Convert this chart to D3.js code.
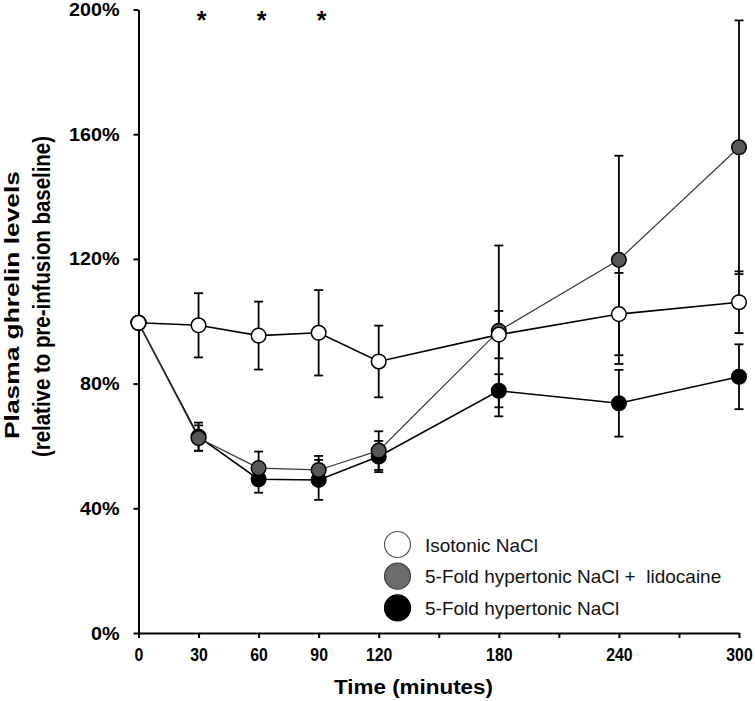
<!DOCTYPE html>
<html>
<head>
<meta charset="utf-8">
<script src="https://cdn.jsdelivr.net/npm/d3@7"></script>
<style>
  html, body { margin: 0; padding: 0; background: #fff; }
  svg text { font-family: "Liberation Sans", Arial, Helvetica, sans-serif; white-space: pre; }
</style>
</head>
<body>
<svg id="chart" width="755" height="701"></svg>
<script>
// ---- data ----
const times = [0, 30, 60, 90, 120, 180, 240, 300];
const isotonic = [99.5, 98.7, 95.4, 96.3, 87.1, 95.7, 102.3, 106.1];
const isotonicSE = [0, 10.3, 10.9, 13.7, 11.5, 7.6, 13.2, 9.9];
const lidocaine = [99.5, 62.5, 52.9, 52.3, 58.5, 96.9, 119.7, 155.8];
const lidocaineSE = [0, 4.1, 5.3, 4.5, 6.2, 27.4, 33.4, 40.7];
const hypertonic = [99.5, 63.0, 49.3, 49.1, 56.6, 77.7, 73.7, 82.2];
const hypertonicSE = [0, 4.5, 4.3, 6.4, 5.0, 5.3, 10.7, 10.4];
const seriesNames = ["Isotonic NaCl", "5-Fold hypertonic NaCl +  lidocaine", "5-Fold hypertonic NaCl"];
const xTicks = [0, 30, 60, 90, 120, 150, 180, 210, 240, 270, 300];
const xLabeled = [0, 30, 60, 90, 120, 180, 240, 300];
const yTicks = [0, 40, 80, 120, 160, 200];
const starTimes = [30, 60, 90];
const xTitle = "Time (minutes)";
const yTitle1 = "Plasma ghrelin levels";
const yTitle2 = "(relative to pre-infusion baseline)";

// ---- chart ----
const svg = d3.select("#chart");
const x = d3.scaleLinear().domain([0, 300]).range([138.5, 739]);
const y = d3.scaleLinear().domain([0, 200]).range([633, 9.5]);

function fit(sel, target) {
  sel.each(function () {
    const w = this.getComputedTextLength();
    if (w > 0) {
      d3.select(this).attr("textLength", target(w, this)).attr("lengthAdjust", "spacingAndGlyphs");
    }
  });
}

// Y axis
const yAxis = svg.append("g").attr("transform", `translate(${x(0)},0)`)
  .call(d3.axisLeft(y).tickValues(yTicks).tickFormat(d => d + "%").tickSize(5).tickSizeOuter(0).tickPadding(14));
yAxis.select(".domain").attr("stroke", "#000").attr("stroke-width", 2);
yAxis.selectAll(".tick line").attr("stroke", "#000").attr("stroke-width", 2);
yAxis.selectAll(".tick text").attr("font-size", 19).attr("font-weight", "bold").attr("fill", "#000")
  .attr("font-family", '"Liberation Sans", Arial, sans-serif');
fit(yAxis.selectAll(".tick text"), w => w * 1.04);

// X axis
const xAxis = svg.append("g").attr("transform", `translate(0,${y(0)})`)
  .call(d3.axisBottom(x).tickValues(xTicks).tickFormat(d => xLabeled.includes(d) ? String(d) : "")
    .tickSize(5).tickSizeOuter(0).tickPadding(10));
xAxis.select(".domain").attr("stroke", "#000").attr("stroke-width", 2);
xAxis.selectAll(".tick line").attr("stroke", "#000").attr("stroke-width", 2);
xAxis.selectAll(".tick text").attr("font-size", 18).attr("font-weight", "bold").attr("fill", "#000")
  .attr("font-family", '"Liberation Sans", Arial, sans-serif');
fit(xAxis.selectAll(".tick text").filter(function () { return this.textContent !== ""; }), w => w * 0.88);

// Axis titles
const xt = svg.append("text").attr("x", 413.5).attr("y", 694).attr("text-anchor", "middle")
  .attr("font-size", 20).attr("font-weight", "bold").text(xTitle);
fit(xt, () => 159);

const yt1 = svg.append("text").attr("transform", "translate(19,305) rotate(-90)").attr("text-anchor", "middle")
  .attr("font-size", 21).attr("font-weight", "bold").text(yTitle1);
fit(yt1, () => 268);
const yt2 = svg.append("text").attr("transform", "translate(50,296.5) rotate(-90)").attr("text-anchor", "middle")
  .attr("font-size", 23).attr("font-weight", "bold").text(yTitle2);
fit(yt2, () => 321);

// Asterisks
svg.append("g").selectAll("text").data(starTimes).join("text")
  .attr("x", d => x(d) + 3).attr("y", 29).attr("text-anchor", "middle")
  .attr("font-size", 25).attr("font-weight", "bold").text("*");

// Series
const series = [
  { name: seriesNames[2], vals: hypertonic, se: hypertonicSE, fill: "#000", line: "#000", lw: 1.6 },
  { name: seriesNames[1], vals: lidocaine, se: lidocaineSE, fill: "#575757", line: "#3a3a3a", lw: 1.2 },
  { name: seriesNames[0], vals: isotonic, se: isotonicSE, fill: "#fff", line: "#000", lw: 1.6 }
];

const capW = 4.5;
const eb = svg.append("g");
series.forEach(s => {
  const pts = times.map((t, i) => ({ t, v: s.vals[i], e: s.se[i] })).filter(p => p.e > 0);
  const g = eb.append("g");
  g.selectAll("line.v").data(pts).join("line").attr("class", "v")
    .attr("x1", d => x(d.t)).attr("x2", d => x(d.t))
    .attr("y1", d => y(d.v + d.e)).attr("y2", d => y(d.v - d.e))
    .attr("stroke", "#000").attr("stroke-width", 1.8);
  [1, -1].forEach(sign => {
    g.selectAll("line.c" + (sign > 0 ? "u" : "d")).data(pts).join("line").attr("class", "c" + (sign > 0 ? "u" : "d"))
      .attr("x1", d => x(d.t) - capW).attr("x2", d => x(d.t) + capW)
      .attr("y1", d => y(d.v + sign * d.e)).attr("y2", d => y(d.v + sign * d.e))
      .attr("stroke", "#000").attr("stroke-width", 1.8);
  });
});

const line = d3.line().x(d => x(d.t)).y(d => y(d.v));
series.forEach(s => {
  const pts = times.map((t, i) => ({ t, v: s.vals[i] }));
  svg.append("path").datum(pts).attr("d", line).attr("fill", "none")
    .attr("stroke", s.line).attr("stroke-width", s.lw);
});
series.forEach(s => {
  const pts = times.map((t, i) => ({ t, v: s.vals[i] }));
  svg.append("g").selectAll("circle").data(pts).join("circle")
    .attr("cx", d => x(d.t)).attr("cy", d => y(d.v)).attr("r", 7.3)
    .attr("fill", s.fill).attr("stroke", "#000").attr("stroke-width", 1.5);
});

// Legend
const legendItems = [
  { name: seriesNames[0], fill: "#fff", stroke: "#555" },
  { name: seriesNames[1], fill: "#6c6c6c", stroke: "#444" },
  { name: seriesNames[2], fill: "#000", stroke: "#000" }
];
const lg = svg.append("g");
legendItems.forEach((it, i) => {
  const cy = 544.5 + i * 31.7;
  lg.append("circle").attr("cx", 397.5).attr("cy", cy).attr("r", 13)
    .attr("fill", it.fill).attr("stroke", it.stroke).attr("stroke-width", 1.2);
  lg.append("text").attr("x", 425).attr("y", cy + 7).attr("font-size", 19).attr("fill", "#111").text(it.name);
});
</script>
</body>
</html>
